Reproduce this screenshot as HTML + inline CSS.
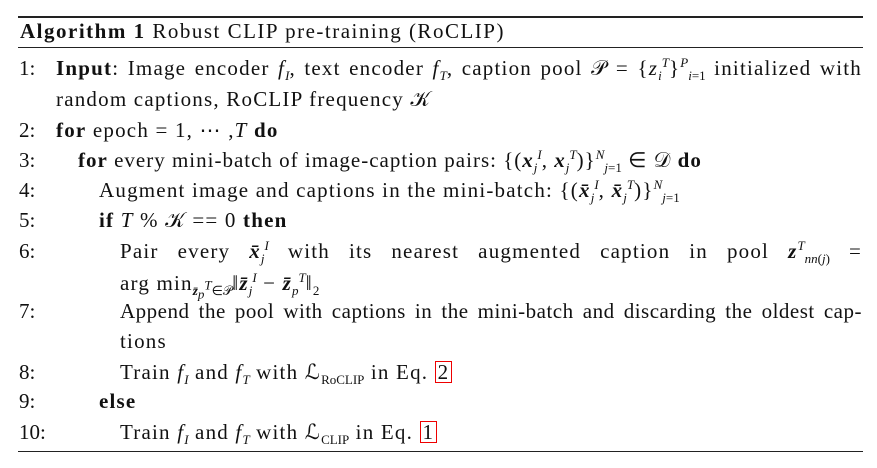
<!DOCTYPE html>
<html><head><meta charset="utf-8"><style>
body{margin:0;background:#fff;width:877px;height:468px;position:relative;overflow:hidden;font-family:"Liberation Serif",serif;font-size:21px;letter-spacing:1.2px;color:#111}
.r{position:absolute;left:18px;width:845px;background:#222}
.l{position:absolute;white-space:nowrap;line-height:22px;height:22px}
.n{position:absolute;left:19px;line-height:22px;letter-spacing:0}
.j{text-align:justify;text-align-last:justify;white-space:normal}
i{font-style:italic}
b{font-weight:bold}
.box{border:1px solid #e00;padding:0 2px;line-height:20px;display:inline-block}
sub,sup{font-size:13px;line-height:0;letter-spacing:0}
</style></head><body>
<div class="r" style="top:16px;height:2px"></div>
<div class="l" style="left:20px;top:20px;letter-spacing:1.5px"><b>Algorithm 1</b> Robust CLIP pre-training (RoCLIP)</div>
<div class="r" style="top:47px;height:1px"></div>

<div class="n" style="top:57px">1:</div>
<div class="l j" style="left:56px;top:57px;width:806px"><b>Input</b>: Image encoder <i>f<sub>I</sub></i>, text encoder <i>f<sub>T</sub></i>, caption pool 𝒫 = {<i>z</i><sub><i>i</i></sub><sup><i>T</i></sup>}<sup><i>P</i></sup><sub><i>i</i>=1</sub> initialized with</div>
<div class="l" style="left:56px;top:88px">random captions, RoCLIP frequency 𝒦</div>

<div class="n" style="top:119px">2:</div>
<div class="l" style="left:56px;top:119px"><b>for</b> epoch = 1, ⋯ ,<i>T</i> <b>do</b></div>
<div class="n" style="top:149px">3:</div>
<div class="l" style="left:78px;top:149px;letter-spacing:1px"><b>for</b> every mini-batch of image-caption pairs: {(<b><i>x</i></b><sub><i>j</i></sub><sup><i>I</i></sup>, <b><i>x</i></b><sub><i>j</i></sub><sup><i>T</i></sup>)}<sup><i>N</i></sup><sub><i>j</i>=1</sub> ∈ 𝒟 <b>do</b></div>
<div class="n" style="top:179px">4:</div>
<div class="l" style="left:99px;top:179px">Augment image and captions in the mini-batch: {(<b><i>x̄</i></b><sub><i>j</i></sub><sup><i>I</i></sup>, <b><i>x̄</i></b><sub><i>j</i></sub><sup><i>T</i></sup>)}<sup><i>N</i></sup><sub><i>j</i>=1</sub></div>
<div class="n" style="top:209px">5:</div>
<div class="l" style="left:99px;top:209px"><b>if</b> <i>T</i> % 𝒦 == 0 <b>then</b></div>
<div class="n" style="top:240px">6:</div>
<div class="l j" style="left:120px;top:240px;width:742px">Pair every <b><i>x̄</i></b><sub><i>j</i></sub><sup><i>I</i></sup> with its nearest augmented caption in pool <b><i>z</i></b><sup><i>T</i></sup><sub><i>nn</i>(<i>j</i>)</sub> =</div>
<div class="l" style="left:120px;top:272px">arg min<sub><b><i>z̄</i></b><sub><i>p</i></sub><sup><i>T</i></sup>∈𝒫</sub>‖<b><i>z̄</i></b><sub><i>j</i></sub><sup><i>I</i></sup> − <b><i>z̄</i></b><sub><i>p</i></sub><sup><i>T</i></sup>‖<sub>2</sub></div>
<div class="n" style="top:300px">7:</div>
<div class="l j" style="left:120px;top:300px;width:742px;letter-spacing:0.5px">Append the pool with captions in the mini-batch and discarding the oldest cap-</div>
<div class="l" style="left:120px;top:330px">tions</div>
<div class="n" style="top:361px">8:</div>
<div class="l" style="left:120px;top:361px">Train <i>f<sub>I</sub></i> and <i>f<sub>T</sub></i> with ℒ<sub>RoCLIP</sub> in Eq. <span class="box">2</span></div>
<div class="n" style="top:390px">9:</div>
<div class="l" style="left:99px;top:390px"><b>else</b></div>
<div class="n" style="top:421px">10:</div>
<div class="l" style="left:120px;top:421px">Train <i>f<sub>I</sub></i> and <i>f<sub>T</sub></i> with ℒ<sub>CLIP</sub> in Eq. <span class="box">1</span></div>
<div class="r" style="top:451px;height:1px"></div>
</body></html>
